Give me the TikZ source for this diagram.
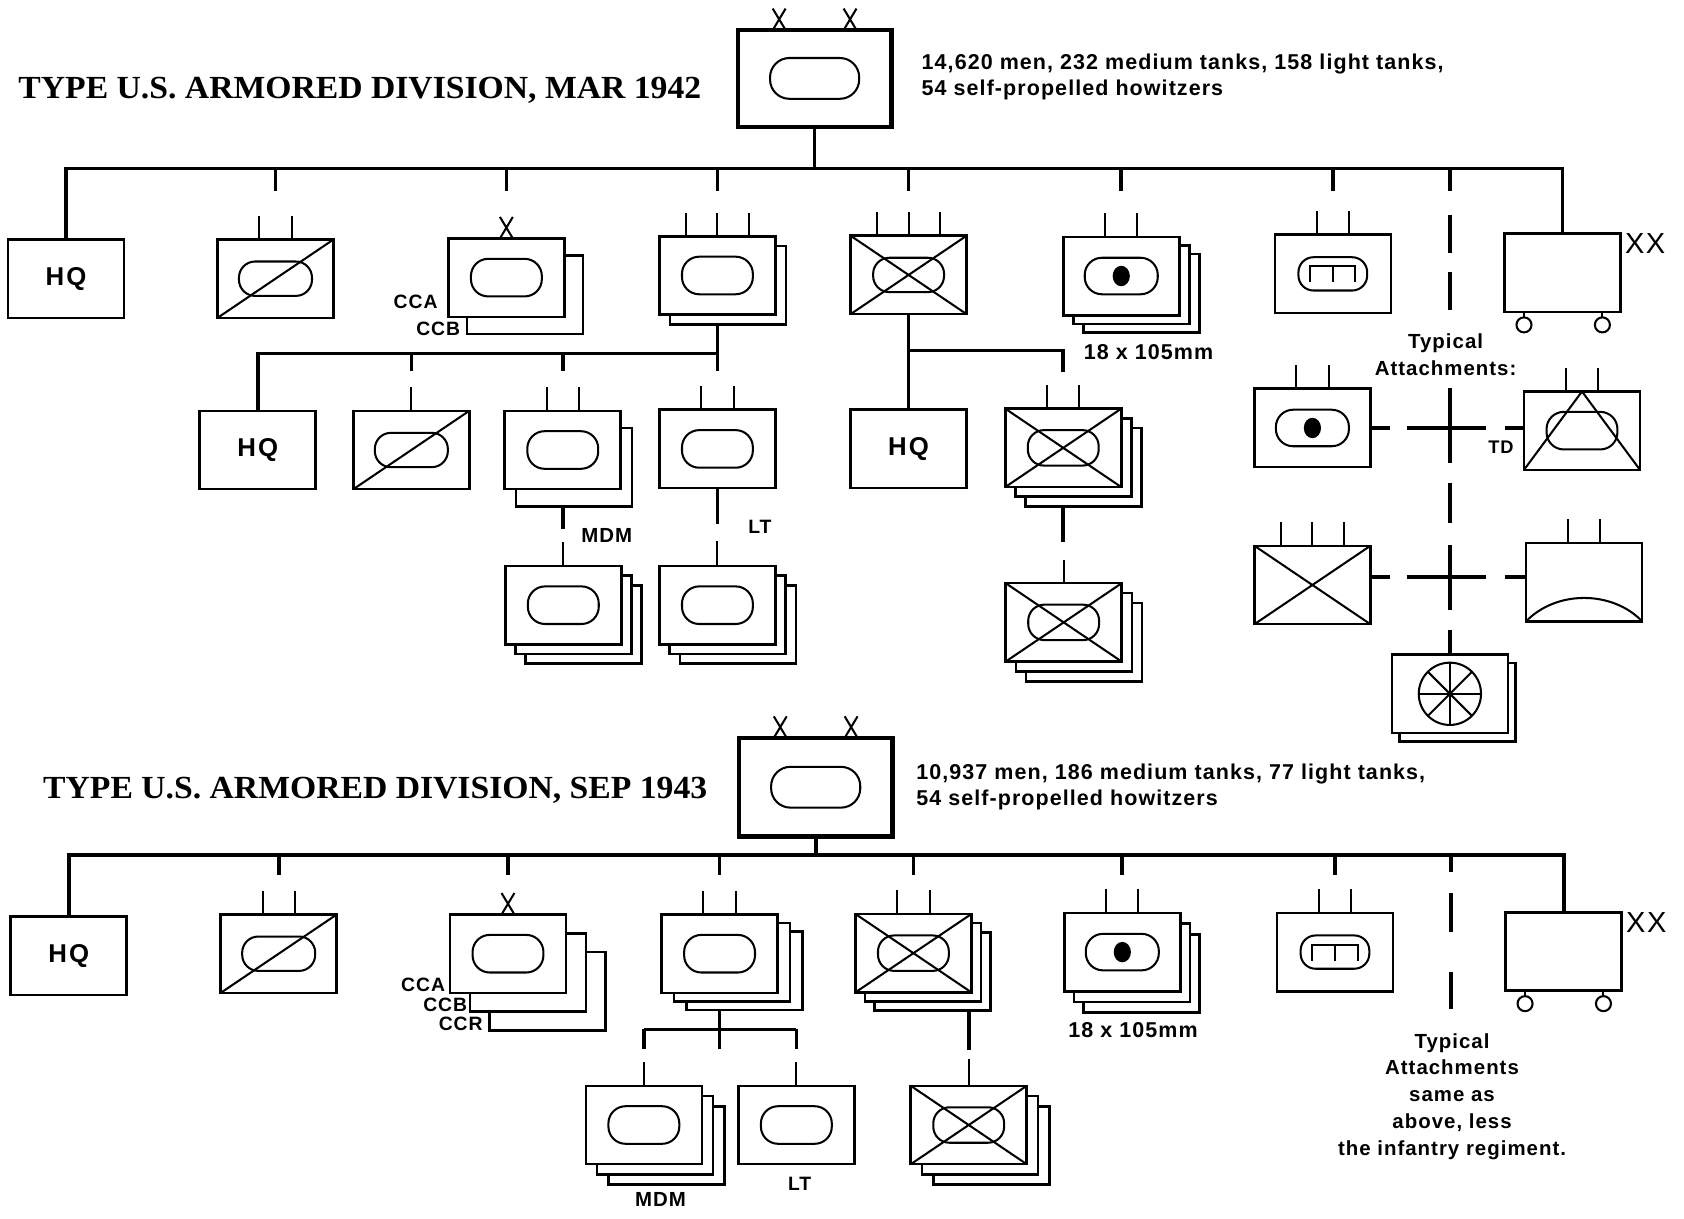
\documentclass[tikz,border=0pt]{standalone}
\usepackage{fontspec}
\setmainfont{Liberation Serif}
\setsansfont{Liberation Sans}[LetterSpace=5]

% symbols drawn inside the unit boxes
\newcommand{\unitoval}[4]{\draw[sym, rounded corners=#4pt] ([shift={(-#2,-#3)}]#1.center) rectangle ([shift={(#2,#3)}]#1.center);}
\newcommand{\armd}[1]{\unitoval{#1}{33}{17.5}{16}}
\newcommand{\crossd}[1]{\draw[sym] (#1.north west) -- (#1.south east) (#1.north east) -- (#1.south west);}
\newcommand{\slashd}[1]{\draw[sym] (#1.south west) -- (#1.north east);}
\newcommand{\gund}[1]{\unitoval{#1}{34}{17}{16}\fill (#1.center) ellipse [x radius=8pt, y radius=9.5pt];}
\newcommand{\engd}[1]{\unitoval{#1}{32}{15.5}{14}\draw[sym] ([shift={(-21,8)}]#1.center) -- ++(0,-15) -- ++(42,0) -- ++(0,15) ([shift={(0,-7)}]#1.center) -- ++(0,15);}
\newcommand{\tdd}[1]{\unitoval{#1}{33}{17.5}{16}\draw[sym] (#1.south west) -- (#1.north) -- (#1.south east);}
\newcommand{\aad}[1]{\draw[sym] (#1.south west) .. controls ([shift={(28,-29)}]#1.south west) and ([shift={(-28,-29)}]#1.south east) .. (#1.south east);}
\newcommand{\cmld}[1]{\draw[sym] (#1.center) circle [radius=29pt];
  \foreach \a in {0,45,90,135} \draw[sym] ([shift={(\a:29pt)}]#1.center) -- ([shift={(\a+180:29pt)}]#1.center);}
\newcommand{\wheels}[1]{\foreach \s in {-36,37} {\draw[sym] ([xshift=\s]#1.south) -- ++(0,5);
  \draw[sym, fill=white] ([shift={(\s,12)}]#1.south) circle [radius=7pt];}}
% size marks above the boxes
\newcommand{\markI}[1]{\draw[mk] (#1.north) -- ++(0,-22);}
\newcommand{\markII}[1]{\draw[mk] ([xshift=-15]#1.north) -- ++(0,-22) ([xshift=15]#1.north) -- ++(0,-22);}
\newcommand{\markIII}[1]{\draw[mk] ([xshift=-29]#1.north) -- ++(0,-22) (#1.north) -- ++(0,-22) ([xshift=29]#1.north) -- ++(0,-22);}
\newcommand{\markX}[2][0]{\draw[mk] ([xshift=#1-6]#2.north) -- ++(12,-20) ([xshift=#1+6]#2.north) -- ++(-12,-20);}

\begin{document}
\begin{tikzpicture}[x=1pt, y=-1pt,
    unit/.style={draw, line width=2.4pt, fill=white, minimum width=108pt, minimum height=73pt, inner sep=0pt, outer sep=0pt, font=\sffamily\bfseries\fontsize{24}{24}\selectfont},
    divbox/.style={draw, line width=4pt, fill=white, minimum width=143pt, minimum height=90pt, inner sep=0pt, outer sep=0pt},
    bus/.style={line width=3.4pt},
    mk/.style={line width=1.9pt},
    sym/.style={line width=1.9pt},
    lbl/.style={font=\sffamily\bfseries\fontsize{18}{18}\selectfont, inner sep=0pt},
    stat/.style={font=\sffamily\bfseries\fontsize{20}{24}\selectfont, align=left, inner sep=0pt},
    note/.style={font=\sffamily\bfseries\fontsize{19}{25}\selectfont, align=center, inner sep=0pt},
    ttl/.style={font=\bfseries\fontsize{30}{30}\selectfont, inner sep=0pt},
    xxl/.style={font=\sffamily\fontsize{27}{27}\selectfont, inner sep=0pt}]
  \fill[white] (0,0) rectangle (1568,1135);
  \useasboundingbox (0,0) rectangle (1568,1135);

  % ---------------- MAR 1942 ----------------
  \node[ttl, anchor=west] (ttl1) at (17,84) {\scalebox{1.045}[1]{TYPE U.S. ARMORED DIVISION, MAR 1942}};
  \node[divbox] (div1) at (758.5,73) {};
  \unitoval{div1}{41.5}{19}{18}
  \markX[-33]{div1} \markX[33]{div1}
  \node[stat, anchor=west] (stat1) at (858,71.5) {14,620 men, 232 medium tanks, 158 light tanks,\\54 self-propelled howitzers};

  \node[unit] (hq1) at (61.5,259.5) {H\kern2pt Q};
  \node[unit] (rcn1) at (256.5,259.5) {};
  \unitoval{rcn1}{34}{16}{15} \slashd{rcn1} \markII{rcn1}
  \node[unit] (cc1-1) at (489,274.5) {};
  \node[unit] (cc1) at (471.5,258.5) {};
  \armd{cc1} \markX{cc1}
  \node[lbl] (cca1) at (387,281) {CCA};
  \node[lbl] (ccb1) at (408,306) {CCB};
  \node[unit] (ar1-1) at (678,265.5) {};
  \node[unit] (ar1) at (668,256.5) {};
  \armd{ar1} \markIII{ar1}
  \node[unit] (inf1) at (846,256) {};
  \crossd{inf1} \unitoval{inf1}{33}{16}{15} \markIII{inf1}
  \foreach \k in {2,1} \node[unit] (art1-\k) at ({1044+9.5*\k},{257+8*\k}) {};
  \node[unit] (art1) at (1044,257) {};
  \gund{art1} \markII{art1}
  \node[lbl, font=\sffamily\bfseries\fontsize{20}{20}\selectfont] (cal1) at (1069.5,327.5) {18 x 105mm};
  \node[unit] (eng1) at (1241,255) {};
  \engd{eng1} \markII{eng1}
  \node[unit] (trn1) at (1455,254) {};
  \wheels{trn1}
  \node[xxl, anchor=north west] (xx1) at ([xshift=4]trn1.north east) {XX};

  % division bus
  \path (div1.south) ++(0,39) coordinate (bus1);
  \draw[bus] (div1.south) -- (bus1);
  \draw[bus] (hq1.north) |- (bus1) -| (trn1.north);
  \foreach \u in {rcn1,cc1,ar1,inf1,art1,eng1} \draw[bus] (\u.north |- bus1) -- ++(0,21);

  % armored regiment
  \node[unit] (hq2) at (240,419) {H\kern2pt Q};
  \node[unit] (rcn2) at (383,419) {};
  \unitoval{rcn2}{34}{16}{15} \slashd{rcn2} \markI{rcn2}
  \node[unit] (mdm1-1) at (534.5,435) {};
  \node[unit] (mdm1) at (524,419) {};
  \armd{mdm1} \markII{mdm1}
  \node[unit] (lt1) at (668,418) {};
  \armd{lt1} \markII{lt1}
  \path (ar1.south) ++(0,36) coordinate (bus2);
  \draw[bus] (ar1.south |- ar1-1.south) -- ++(0,43);
  \draw[bus] (hq2.north) |- (bus2);
  \foreach \u in {rcn2,mdm1} \draw[bus] (\u.north |- bus2) -- ++(0,16);

  \foreach \k in {2,1} \node[unit] (mdm2-\k) at ({524.5+9.5*\k},{563.5+9*\k}) {};
  \node[unit] (mdm2) at (524.5,563.5) {};
  \armd{mdm2}
  \foreach \k in {2,1} \node[unit] (lt2-\k) at ({668+9.5*\k},{563.5+9*\k}) {};
  \node[unit] (lt2) at (668,563.5) {};
  \armd{lt2}
  \draw[bus] (mdm1.south |- mdm1-1.south) -- ++(0,21);
  \draw[mk] (mdm2.north) -- ++(0,-22);
  \draw[bus] (lt1.south) -- ++(0,33);
  \draw[mk] (lt2.north) -- ++(0,-23);
  \node[lbl, font=\sffamily\bfseries\fontsize{19}{19}\selectfont] (mdml1) at (565,499) {MDM};
  \node[lbl] (ltl1) at (707.5,491) {LT};

  % infantry regiment
  \node[unit] (hqi) at (846,418) {H\kern2pt Q};
  \foreach \k in {2,1} \node[unit] (infb1-\k) at ({990+9.5*\k},{417+9*\k}) {};
  \node[unit] (infb1) at (990,417) {};
  \crossd{infb1} \unitoval{infb1}{33}{16.5}{15} \markII{infb1}
  \foreach \k in {2,1} \node[unit] (infb2-\k) at ({990.4+9.5*\k},{579.5+9.3*\k}) {};
  \node[unit] (infb2) at (990.4,579.5) {};
  \crossd{infb2} \unitoval{infb2}{33}{16.5}{15}
  \path (inf1.south) ++(0,34) coordinate (bus3);
  \draw[bus] (inf1.south) -- (hqi.north);
  \draw[bus] (bus3) -- (infb1.north |- bus3) -- ++(0,20);
  \draw[bus] (infb1.south |- infb1-2.south) -- ++(0,33);
  \draw[mk] (infb2.north) -- ++(0,-22);

  % typical attachments
  \node[note] (typ1) at (1346,330) {Typical\\Attachments:};
  \node[unit] (atart) at (1222,398.5) {};
  \gund{atart} \markII{atart}
  \node[unit] (attd) at (1473,401) {};
  \tdd{attd} \markII{attd}
  \node[lbl, font=\sffamily\bfseries\fontsize{17}{17}\selectfont] (tdl) at (1397.6,416) {TD};
  \node[unit] (atinf) at (1222,544.7) {};
  \crossd{atinf} \markIII{atinf}
  \node[unit] (ataa) at (1475,542) {};
  \aad{ataa} \markII{ataa}
  \node[unit] (cml-1) at (1357,654) {};
  \node[unit] (cml) at (1350,646) {};
  \cmld{cml}
  \coordinate (att1) at (cml.north |- bus1);
  \draw[bus, dash pattern=on 21pt off 22pt on 36pt off 17pt on 36pt off 72pt on 70pt off 19pt on 37pt off 20pt on 61pt off 19pt on 30pt] (att1) -- (cml.north);
  \draw[bus] (cml.north) -- ++(0,-23);
  \draw[bus, dash pattern=on 18pt off 16pt on 74pt off 17pt on 20pt] (atart.east) -- (atart.east -| attd.west);
  \coordinate (dh2) at ([yshift=7.7pt]atinf.east);
  \draw[bus, dash pattern=on 18pt off 16pt on 74pt off 17pt on 20pt] (dh2) -- (dh2 -| ataa.west);

  % ---------------- SEP 1943 ----------------
  \node[ttl, anchor=west] (ttl2) at (40,736) {\scalebox{1.045}[1]{TYPE U.S. ARMORED DIVISION, SEP 1943}};
  \node[divbox, minimum height=92pt] (div2) at (759.5,733) {};
  \unitoval{div2}{41.5}{19}{18}
  \markX[-33]{div2} \markX[33]{div2}
  \node[stat, anchor=west] (stat2) at (853,733) {10,937 men, 186 medium tanks, 77 light tanks,\\54 self-propelled howitzers};

  \node[unit] (hq3) at (64,890) {H\kern2pt Q};
  \node[unit] (rcn3) at (259.5,888) {};
  \unitoval{rcn3}{34}{16}{15} \slashd{rcn3} \markII{rcn3}
  \foreach \k in {2,1} \node[unit] (cc2-\k) at ({473+18.5*\k},{888+17.5*\k}) {};
  \node[unit] (cc2) at (473,888) {};
  \armd{cc2} \markX{cc2}
  \node[lbl] (cca2) at (394,917) {CCA};
  \node[lbl] (ccb2) at (414.5,936) {CCB};
  \node[lbl] (ccr2) at (429,953) {CCR};
  \foreach \k in {2,1} \node[unit] (ar2-\k) at ({670+11.5*\k},{888+8*\k}) {};
  \node[unit] (ar2) at (670,888) {};
  \armd{ar2} \markII{ar2}
  \foreach \k in {2,1} \node[unit] (infb3-\k) at ({850.5+8.75*\k},{887.5+8.5*\k}) {};
  \node[unit] (infb3) at (850.5,887.5) {};
  \crossd{infb3} \unitoval{infb3}{33}{16.5}{15} \markII{infb3}
  \foreach \k in {2,1} \node[unit] (art2-\k) at ({1045+9*\k},{886.5+10*\k}) {};
  \node[unit] (art2) at (1045,886.5) {};
  \gund{art2} \markII{art2}
  \node[lbl, font=\sffamily\bfseries\fontsize{20}{20}\selectfont] (cal2) at (1055,959) {18 x 105mm};
  \node[unit] (eng2) at (1243,886.5) {};
  \engd{eng2} \markII{eng2}
  \node[unit] (trn2) at (1456,886) {};
  \wheels{trn2}
  \node[xxl, anchor=north west] (xx2) at ([xshift=4]trn2.north east) {XX};

  % division bus
  \path (div2.south) ++(0,17) coordinate (bus4);
  \draw[bus] (div2.south) -- (bus4);
  \draw[bus] (hq3.north) |- (bus4) -| (trn2.north);
  \foreach \u in {rcn3,cc2,ar2,infb3,art2,eng2} \draw[bus] (\u.north |- bus4) -- ++(0,19);
  \coordinate (att2) at (1351,796);
  \draw[bus, dash pattern=on 15.6pt off 19.9pt on 36pt off 37.2pt on 34.8pt] (att2) -- ++(0,143.5);

  % tank battalions
  \foreach \k in {2,1} \node[unit] (mdm3-\k) at ({599.5+10.5*\k},{1047.5+9.5*\k}) {};
  \node[unit] (mdm3) at (599.5,1047.5) {};
  \armd{mdm3}
  \node[unit] (lt3) at (741.5,1047.5) {};
  \armd{lt3}
  \path (ar2.south |- ar2-2.south) ++(0,18) coordinate (bus5);
  \draw[bus] (ar2.south |- ar2-2.south) -- ++(0,36);
  \draw[bus] (mdm3.north |- bus5) -- (lt3.north |- bus5);
  \foreach \u in {mdm3,lt3} {
    \draw[bus] (\u.north |- bus5) -- ++(0,18);
    \draw[mk] (\u.north) -- ++(0,-22);
  }
  \node[lbl, font=\sffamily\bfseries\fontsize{19}{19}\selectfont] (mdml2) at (615,1117) {MDM};
  \node[lbl] (ltl2) at (744.5,1102) {LT};

  % infantry battalion
  \foreach \k in {2,1} \node[unit] (infb4-\k) at ({902+10.5*\k},{1047.5+9.5*\k}) {};
  \node[unit] (infb4) at (902,1047.5) {};
  \crossd{infb4} \unitoval{infb4}{33}{16.5}{15}
  \draw[bus] (infb4.north |- infb3-2.south) -- ++(0,37);
  \draw[mk] (infb4.north) -- ++(0,-25);

  \node[note] (typ2) at (1352,1021) {Typical\\Attachments\\same as\\above, less\\the infantry regiment.};
\end{tikzpicture}
\end{document}
